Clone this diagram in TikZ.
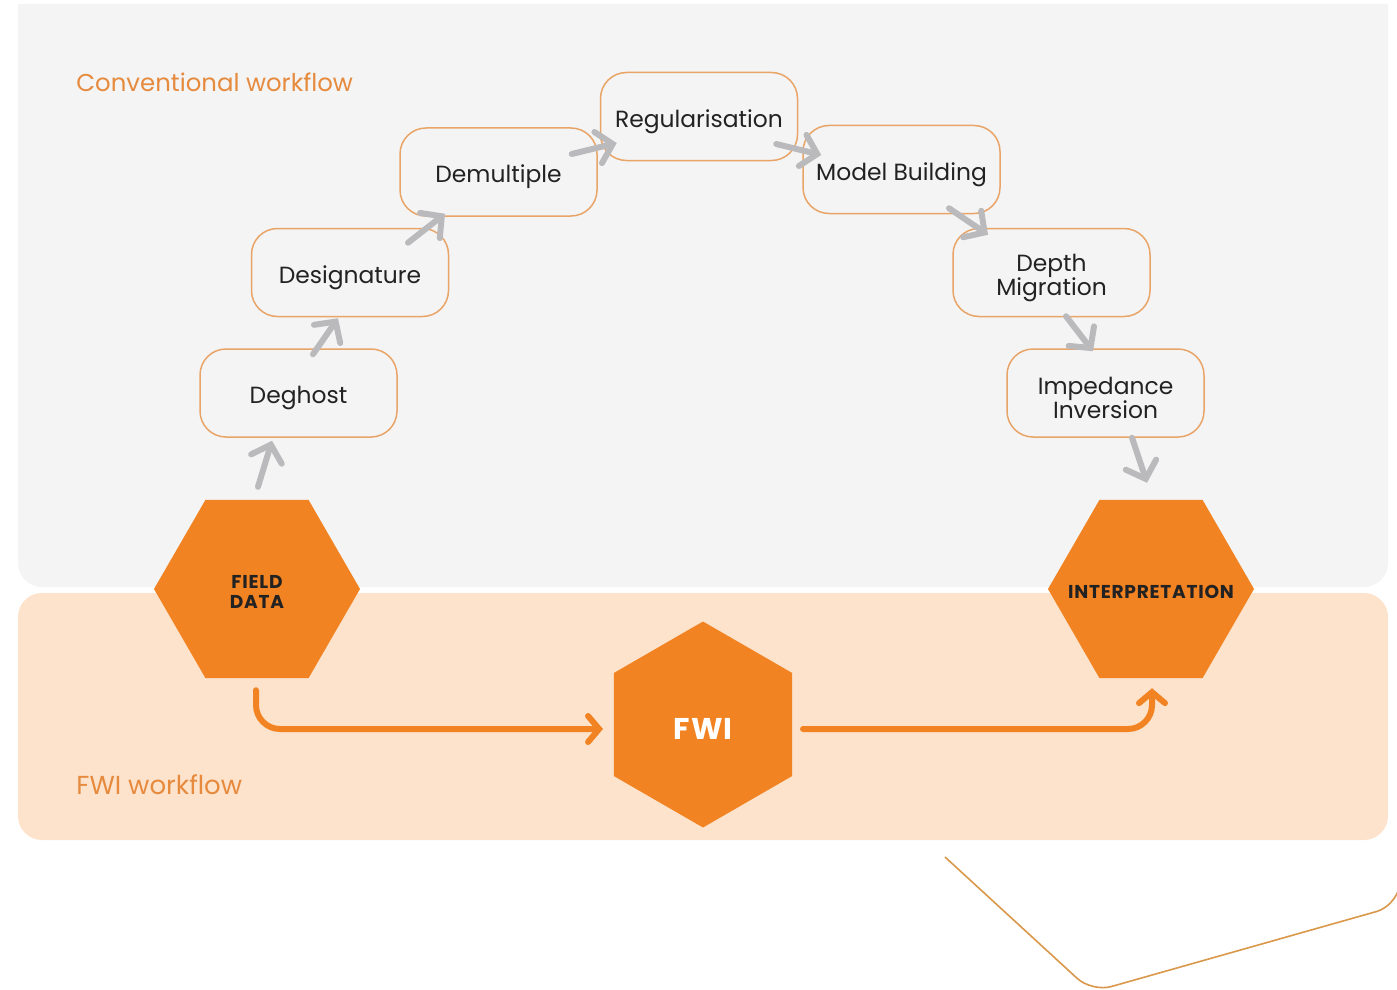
\documentclass[tikz,border=0pt]{standalone}
\usepackage{fontspec}
\setmainfont{Poppins}
\newfontfamily\hexfont[LetterSpace=4]{Poppins}
\usetikzlibrary{shapes.geometric,arrows.meta}
\definecolor{panelgray}{HTML}{F4F4F4}
\definecolor{panelpeach}{HTML}{FDE3CC}
\definecolor{hexorange}{HTML}{F28322}
\definecolor{boxline}{HTML}{E9A468}
\definecolor{labelorange}{HTML}{E68A3E}
\definecolor{arrowgray}{HTML}{BABABD}
\definecolor{txtdark}{HTML}{222222}
\definecolor{goldline}{HTML}{D9984A}
\tikzset{
  stepbox/.style={draw=boxline, line width=0.75pt, fill=panelgray, rounded corners=13pt,
    minimum width=98.5pt, minimum height=44pt, inner sep=0pt},
  boxtext/.style={yshift=-2.5pt, inner sep=0pt, align=center, text=txtdark,
    font=\fontsize{11.7}{12}\selectfont},
  hexnode/.style={regular polygon, regular polygon sides=6, fill=hexorange, inner sep=0pt,
    outer sep=0pt, minimum size=103pt},
  hextext/.style={yshift=-1.7pt, inner sep=0pt, align=center, text=txtdark,
    font=\hexfont\fontsize{9.3}{10}\selectfont\bfseries},
  garrow/.style={draw=arrowgray, line width=3pt, line cap=round,
    -{Straight Barb[length=7.5pt,width=16pt,line width=3pt,line cap=round]}},
  oarrow/.style={draw=hexorange, line width=3pt, line cap=round, rounded corners=12pt,
    -{Straight Barb[length=5.5pt,width=13pt,line width=3pt,line cap=round]}},
  panellabel/.style={anchor=base west, text=labelorange, inner sep=0pt,
    font=\fontsize{12.2}{14}\selectfont}
}
\begin{document}
\begin{tikzpicture}[x=0.5pt,y=-0.5pt]
\useasboundingbox (0,0) rectangle (1397,990);
\clip (0,0) rectangle (1397,990);
\fill[white] (0,0) rectangle (1397,990);
% panels
\fill[panelgray] (18,4) -- (1388,4) [rounded corners=12pt] -- (1388,587) -- (18,587) [sharp corners] -- cycle;
\fill[panelpeach, rounded corners=12pt] (18,593) rectangle (1388,840);
% decorative line
\draw[goldline, line width=0.8pt, rounded corners=10pt] (945,857) -- (1092,992) -- (1396,906) -- (1404,860);
% labels
\node[panellabel] (lconv) at (76,91) {Conventional workflow};
\node[panellabel, font=\fontsize{13}{14}\selectfont] (lfwi) at (76,794) {FWI workflow};
% step boxes
\node[stepbox, label={[boxtext]center:Deghost}] (dg) at (298.5,393) {};
\node[stepbox, label={[boxtext]center:Designature}] (ds) at (350,272.5) {};
\node[stepbox, label={[boxtext]center:Demultiple}] (dm) at (498.5,172) {};
\node[stepbox, label={[boxtext]center:Regularisation}] (rg) at (699,116.5) {};
\node[stepbox, label={[boxtext]center:Model Building}] (mb) at (901.5,169.5) {};
\node[stepbox, label={[boxtext]center:Depth\\Migration}] (dpm) at (1051.5,272.5) {};
\node[stepbox, label={[boxtext]center:Impedance\\Inversion}] (ii) at (1105.5,393) {};
% hexagons
\node[hexnode, label={[hextext]center:FIELD\\DATA}] (fd) at (257,589) {};
\node[hexnode, label={[hextext]center:INTERPRETATION}] (ip) at (1151,589) {};
\node[hexnode, shape border rotate=90,
  label={[hextext, text=white, yshift=-0.5pt, font=\hexfont\fontsize{15}{16}\selectfont\bfseries]center:FWI}] (fwi) at (703,724.5) {};
% gray arrows
\draw[garrow] ([shift={(1,-13)}]fd.north) -- ([shift={(-26.5,3)}]dg.south);
\draw[garrow] ([shift={(14.5,6)}]dg.north) -- ([shift={(-12,1)}]ds.south);
\draw[garrow] ([shift={(58,15)}]ds.north) -- ([shift={(-53.5,-3)}]dm.south);
\draw[garrow] ([shift={(-26,-18)}]dm.east) -- ([shift={(17,26.5)}]rg.west);
\draw[garrow] ([shift={(-22,27.5)}]rg.east) -- ([shift={(19,-14.5)}]mb.west);
\draw[garrow] ([shift={(47.5,-6)}]mb.south) -- ([shift={(-63.5,7)}]dpm.north);
\draw[garrow] ([shift={(14.5,-1)}]dpm.south) -- ([shift={(-12.5,3)}]ii.north);
\draw[garrow] ([shift={(26.5,0)}]ii.south) -- ([shift={(-4,-17)}]ip.north);
% orange arrows
\draw[oarrow] ([shift={(-1,12)}]fd.south) |- ([shift={(-100,4.5)}]fwi.center);
\draw[oarrow] ([shift={(100,4.5)}]fwi.center) -| ([shift={(1,10)}]ip.south);
\end{tikzpicture}
\end{document}
